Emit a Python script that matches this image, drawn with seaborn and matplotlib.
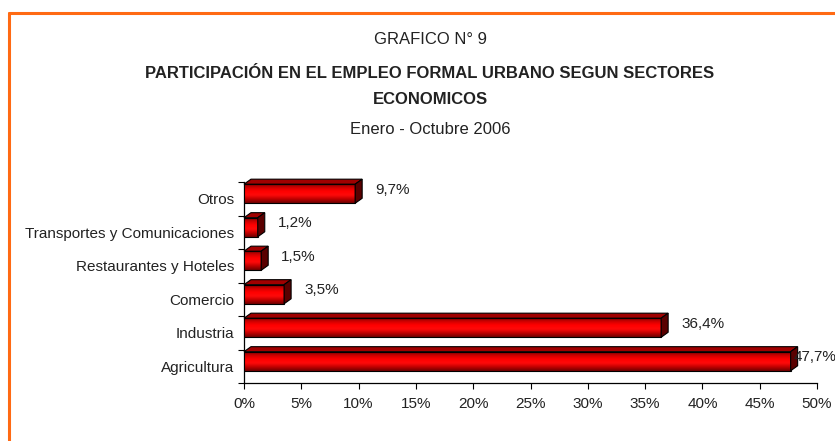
import numpy as np
import pandas as pd
import matplotlib
matplotlib.use("Agg")
import matplotlib.pyplot as plt
import seaborn as sns
from matplotlib.patches import Polygon
from matplotlib.lines import Line2D
from matplotlib.colors import LinearSegmentedColormap

categories = ["Otros", "Transportes y Comunicaciones", "Restaurantes y Hoteles",
              "Comercio", "Industria", "Agricultura"]
values = [9.7, 1.2, 1.5, 3.5, 36.4, 47.7]
value_labels = ["9,7%", "1,2%", "1,5%", "3,5%", "36,4%", "47,7%"]
x_ticks = [0, 5, 10, 15, 20, 25, 30, 35, 40, 45, 50]
x_tick_labels = ["0%", "5%", "10%", "15%", "20%", "25%", "30%", "35%", "40%", "45%", "50%"]
title_lines = ["GRAFICO N° 9",
               "PARTICIPACIÓN EN EL EMPLEO FORMAL URBANO SEGUN SECTORES",
               "ECONOMICOS",
               "Enero - Octubre 2006"]

sns.set_theme(style="white")
FONT = ["Liberation Sans Narrow", "Liberation Sans", "DejaVu Sans"]
plt.rcParams["font.family"] = FONT
TXT = "#222222"

W, H = 835, 441
DPI = 100
fig = plt.figure(figsize=(W / DPI, H / DPI), dpi=DPI)
fig.patch.set_facecolor("white")
ax = fig.add_axes([244 / W, 1 - 383 / H, (817 - 244) / W, (383 - 182) / H])

df = pd.DataFrame({"sector": categories, "valor": values})
sns.barplot(data=df, y="sector", x="valor", order=categories, orient="h",
            width=0.57, color="#ee0000", saturation=1, ax=ax, zorder=2)

ax.set_xlim(0, 50)
ax.set_ylim(len(categories) - 0.5, -0.5)
ax.set_xticks(x_ticks)
ax.set_xticklabels(x_tick_labels, fontsize=11, color=TXT)
ax.set_yticks(range(len(categories)))
ax.set_yticklabels(categories, fontsize=11, color=TXT)
ax.set_yticks(np.arange(-0.5, len(categories) + 0.5, 1), minor=True)
ax.tick_params(axis="y", which="major", length=0, pad=7)
ax.tick_params(axis="y", which="minor", length=4, width=0.8, color="black", direction="out", left=True)
ax.tick_params(axis="x", which="major", length=4, width=0.8, color="black", direction="out", bottom=True, pad=6)
ax.set_xlabel("")
ax.set_ylabel("")
for s in ["top", "right"]:
    ax.spines[s].set_visible(False)
for s in ["left", "bottom"]:
    ax.spines[s].set_color("black")
    ax.spines[s].set_linewidth(0.9)
ax.set_facecolor("white")

# 3D look
fig.canvas.draw()
renderer = fig.canvas.get_renderer()
DX, DY = 7, 5  # pixel depth
grad = np.linspace(0, 1, 64).reshape(-1, 1)
cmap = LinearSegmentedColormap.from_list("bar", ["#6e0000", "#cc0000", "#ff0000", "#ff0a0a", "#c00000", "#700000"])
inv = fig.transFigure.inverted()
patches = list(ax.patches)
for p, lab in zip(patches, value_labels):
    p.set_y(p.get_y() - 0.15)
    x0, y0 = p.get_x(), p.get_y()
    w, h = p.get_width(), p.get_height()
    im = ax.imshow(grad, aspect="auto", cmap=cmap, extent=(x0, x0 + w, y0 + h, y0),
                   zorder=3, interpolation="bicubic")
    im.set_clip_path(p)
    p.set_edgecolor("black")
    p.set_linewidth(0.8)
    p.set_facecolor("none")
    p.set_zorder(4)
    (ax0, ay_top), (ax1, ay_bot) = ax.transData.transform([(x0, y0), (x0 + w, y0 + h)])
    top = [(ax0, ay_top), (ax1, ay_top), (ax1 + DX, ay_top + DY), (ax0 + DX, ay_top + DY)]
    side = [(ax1, ay_top), (ax1 + DX, ay_top + DY), (ax1 + DX, ay_bot + DY), (ax1, ay_bot)]
    fig.add_artist(Polygon(inv.transform(top), closed=True, facecolor="#a00000",
                           edgecolor="black", linewidth=0.8, transform=fig.transFigure, zorder=5))
    fig.add_artist(Polygon(inv.transform(side), closed=True, facecolor="#5a0000",
                           edgecolor="black", linewidth=0.8, transform=fig.transFigure, zorder=5))
    lx = ax1 + 20
    ly = (ay_top + ay_bot) / 2 + 4
    fx, fy = inv.transform((lx, ly))
    t = fig.text(fx, fy, lab, ha="left", va="center", fontsize=11, color=TXT, zorder=6)
    bb = t.get_window_extent(renderer)
    if bb.x1 > W + 1.5:
        fx2, _ = inv.transform((W + 1.5 - bb.width, ly))
        t.set_x(fx2)

# Titles
fig.text(0.515, 1 - 40 / H, title_lines[0], ha="center", va="center", fontsize=12, color=TXT)
fig.text(0.515, 1 - 73 / H, title_lines[1], ha="center", va="center", fontsize=12,
         fontweight="bold", color=TXT)
fig.text(0.515, 1 - 100 / H, title_lines[2], ha="center", va="center", fontsize=12,
         fontweight="bold", color=TXT)
fig.text(0.515, 1 - 129 / H, title_lines[3], ha="center", va="center", fontsize=12, color=TXT)

# Orange frame (top and left)
fig.add_artist(Line2D([9 / W, 1], [1 - 12.5 / H, 1 - 12.5 / H], color="#ff6a13", linewidth=2.2,
                      transform=fig.transFigure))
fig.add_artist(Line2D([9 / W, 9 / W], [0, 1 - 12.5 / H], color="#ff6a13", linewidth=2.2,
                      transform=fig.transFigure))

fig.savefig("out.png", dpi=DPI, facecolor="white")
